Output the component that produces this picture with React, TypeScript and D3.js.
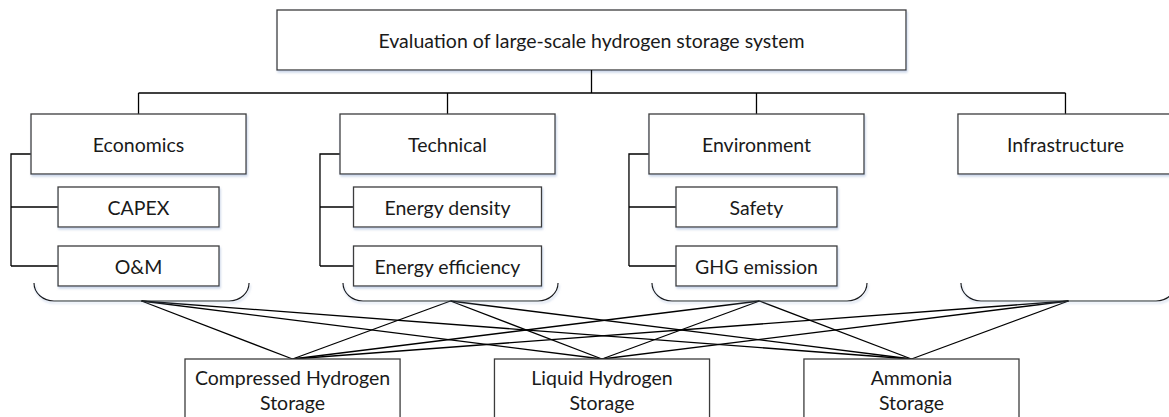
import React from 'react';
import * as d3 from 'd3';

// diagram content
const goal = 'Evaluation of large-scale hydrogen storage system';
const criteria = ['Economics', 'Technical', 'Environment', 'Infrastructure'];
const economicsSub = ['CAPEX', 'O&M'];
const technicalSub = ['Energy density', 'Energy efficiency'];
const environmentSub = ['Safety', 'GHG emission'];
const infrastructureSub: string[] = [];
const subCriteria = [economicsSub, technicalSub, environmentSub, infrastructureSub];
const alternatives = ['Compressed Hydrogen Storage', 'Liquid Hydrogen Storage', 'Ammonia Storage'];
const alternativeLines = [['Compressed Hydrogen', 'Storage'], ['Liquid Hydrogen', 'Storage'], ['Ammonia', 'Storage']];

const W = 1169;
const H = 417;
const FONT = 'Lato, "Open Sans", sans-serif';
const FS = 19.5;
const BOX_STROKE = '#3c3c3c';

const App = () => {
  // horizontal layout
  const xCrit = d3.scaleBand<string>().domain(criteria).range([31, 1173]).paddingInner(0.304);
  const xAlt = d3.scaleBand<string>().domain(alternatives).range([185, 1019]).paddingInner(0.305);
  const goalX = d3.scaleLinear().domain([0, 1]).range([277, 906]);

  // vertical layout
  const y = {
    goalTop: 10, goalBottom: 70,
    bus: 93,
    critTop: 114, critBottom: 174,
    braceTop: 283, braceBottom: 301,
    altTop: 359,
  };
  const ySub = d3.scaleLinear().domain([0, 1]).range([187, 246]);
  const subH = 40;

  const goalCx = (goalX(0) + goalX(1)) / 2;
  const critCx = (c: string) => (xCrit(c) as number) + xCrit.bandwidth() / 2;
  const altCx = (a: string) => (xAlt(a) as number) + xAlt.bandwidth() / 2;

  const bracePath = (x0: number, x1: number) => {
    const rx = 20, ry = y.braceBottom - y.braceTop;
    return `M${x0},${y.braceTop} A${rx},${ry} 0 0 0 ${x0 + rx},${y.braceBottom} L${x1 - rx},${y.braceBottom} A${rx},${ry} 0 0 0 ${x1},${y.braceTop}`;
  };
  const braceX0 = (c: string) => (xCrit(c) as number) + 3;
  const braceCx = (c: string) => braceX0(c) + xCrit.bandwidth() / 2;

  const line = d3.line();

  return (
    <svg width={W} height={H} style={{ position: 'absolute', left: 0, top: 0, background: '#fff' }}
      fontFamily={FONT}>
      <defs>
        <filter id="shadow" x="-5%" y="-10%" width="115%" height="140%">
          <feDropShadow dx="1" dy="2" stdDeviation="1.2" floodColor="#9fb3d6" floodOpacity="0.55" />
        </filter>
      </defs>

      {/* goal box */}
      <rect x={goalX(0)} y={y.goalTop} width={goalX(1) - goalX(0)} height={y.goalBottom - y.goalTop}
        fill="#fff" stroke={BOX_STROKE} strokeWidth={1.3} filter="url(#shadow)" />
      <text x={goalCx} y={(y.goalTop + y.goalBottom) / 2} textAnchor="middle" dominantBaseline="central"
        fontSize={FS} fill="#1a1a1a">{goal}</text>

      {/* connector tree */}
      <path d={line([[goalCx, y.goalBottom], [goalCx, y.bus]]) as string} stroke="#000" strokeWidth={1.3} fill="none" />
      <path d={line([[critCx(criteria[0]), y.bus], [critCx(criteria[criteria.length - 1]), y.bus]]) as string}
        stroke="#000" strokeWidth={1.3} fill="none" />
      {criteria.map(c => (
        <path key={'v' + c} d={line([[critCx(c), y.bus], [critCx(c), y.critTop]]) as string}
          stroke="#000" strokeWidth={1.3} fill="none" />
      ))}

      {/* lines from each criterion group to each alternative */}
      {criteria.map(c => alternatives.map(a => (
        <path key={c + a} d={line([[braceCx(c), y.braceBottom], [altCx(a), y.altTop]]) as string}
          stroke="#000" strokeWidth={1.3} fill="none" />
      )))}

      {criteria.map((c, i) => {
        const x0 = xCrit(c) as number;
        const bw = xCrit.bandwidth();
        const subs = subCriteria[i];
        const subW = subs.some(s => s.length > 12) ? 188 : 161;
        const subX = critCx(c) - subW / 2;
        const bx = x0 - 20;
        const critMid = y.critTop + 40;
        return (
          <g key={c}>
            {subs.length > 0 && (
              <path d={line([[x0, critMid], [bx, critMid], [bx, ySub(subs.length - 1) + subH / 2]]) as string}
                stroke="#000" strokeWidth={1.3} fill="none" />
            )}
            {subs.map((s, j) => (
              <path key={'h' + s} d={line([[bx, ySub(j) + subH / 2], [subX, ySub(j) + subH / 2]]) as string}
                stroke="#000" strokeWidth={1.3} fill="none" />
            ))}
            <rect x={x0} y={y.critTop} width={bw} height={y.critBottom - y.critTop}
              fill="#fff" stroke={BOX_STROKE} strokeWidth={1.3} filter="url(#shadow)" />
            <text x={critCx(c)} y={(y.critTop + y.critBottom) / 2} textAnchor="middle" dominantBaseline="central"
              fontSize={FS} fill="#1a1a1a">{c}</text>
            {subs.map((s, j) => (
              <g key={s}>
                <rect x={subX} y={ySub(j)} width={subW} height={subH}
                  fill="#fff" stroke={BOX_STROKE} strokeWidth={1.3} filter="url(#shadow)" />
                <text x={subX + subW / 2} y={ySub(j) + subH / 2} textAnchor="middle" dominantBaseline="central"
                  fontSize={FS} fill="#1a1a1a">{s}</text>
              </g>
            ))}
            <path d={bracePath(braceX0(c), braceX0(c) + bw)} fill="none" stroke="#1a1a1a" strokeWidth={1.2}
              filter="url(#shadow)" />
          </g>
        );
      })}

      {/* alternatives */}
      {alternatives.map((a, i) => (
        <g key={a}>
          <rect x={xAlt(a) as number} y={y.altTop} width={xAlt.bandwidth()} height={80}
            fill="#fff" stroke={BOX_STROKE} strokeWidth={1.3} />
          {alternativeLines[i].map((t, k) => (
            <text key={t} x={altCx(a)} y={y.altTop + 18 + k * 25} textAnchor="middle" dominantBaseline="central"
              fontSize={FS} fill="#1a1a1a">{t}</text>
          ))}
        </g>
      ))}
    </svg>
  );
};

export default App;
